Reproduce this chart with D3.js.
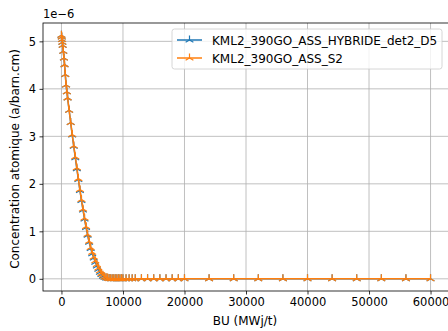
<!DOCTYPE html>
<html>
<head>
<meta charset="utf-8">
<script src="https://cdn.jsdelivr.net/npm/d3@7"></script>
<style>
  body { margin: 0; background: #fff; }
  svg { display: block; font-family: "DejaVu Sans", sans-serif; }
</style>
</head>
<body>
<div id="chart"></div>
<script>
// burnup steps (MWj/t)
const bu = [0, 50, 100, 150, 200, 300, 400, 500, 625, 750, 875, 1000, 1250, 1500, 1750, 2000,
  2250, 2500, 2750, 3000, 3250, 3500, 3750, 4000, 4250, 4500, 4750, 5000, 5250, 5500, 5750,
  6000, 6250, 6500, 6750, 7000, 7250, 7500, 7750, 8000, 8250, 8500, 8750, 9000, 9250, 9500,
  9750, 10000, 10500, 11000, 11500, 12000, 13000, 14000, 15000, 16000, 17000, 18000, 19000,
  20000, 24000, 28000, 32000, 36000, 40000, 44000, 48000, 52000, 56000, 60000];

// concentrations (x1e-6 a/barn.cm)
const concHybride = [5.13, 5.09, 5.04, 4.98, 4.92, 4.79, 4.65, 4.51, 4.30, 4.08, 3.94, 3.81, 3.55,
  3.29, 3.03, 2.79, 2.55, 2.32, 2.09, 1.86, 1.65, 1.45, 1.26, 1.08, 0.92, 0.77, 0.64, 0.53,
  0.44, 0.35, 0.27, 0.20, 0.14, 0.09, 0.055, 0.032, 0.018, 0.010, 0.006, 0.003, 0.002, 0.001,
  0.001, 0.0005, 0.0004, 0.0003, 0.0002, 0.0002, 0.0001, 0.0001, 0.0001, 0.0001, 0, 0, 0, 0,
  0, 0, 0, 0, 0, 0, 0, 0, 0, 0, 0, 0, 0, 0];
const concS2 = [5.13, 5.09, 5.04, 4.98, 4.92, 4.79, 4.65, 4.51, 4.30, 4.08, 3.94, 3.81, 3.55,
  3.29, 3.04, 2.80, 2.57, 2.34, 2.11, 1.88, 1.67, 1.47, 1.28, 1.10, 0.94, 0.79, 0.66, 0.56,
  0.46, 0.38, 0.30, 0.23, 0.17, 0.115, 0.075, 0.045, 0.027, 0.015, 0.008, 0.004, 0.003, 0.002,
  0.001, 0.001, 0.0005, 0.0004, 0.0003, 0.0002, 0.0002, 0.0001, 0.0001, 0.0001, 0, 0, 0, 0,
  0, 0, 0, 0, 0, 0, 0, 0, 0, 0, 0, 0, 0, 0];

const seriesNames = ['KML2_390GO_ASS_HYBRIDE_det2_D5', 'KML2_390GO_ASS_S2'];
const seriesColors = ['#1f77b4', '#ff7f0e'];
const xTicks = [0, 10000, 20000, 30000, 40000, 50000, 60000];
const yTicks = [0, 1, 2, 3, 4, 5];

const width = 448, height = 331;
const margin = { top: 23, right: -1, bottom: 40, left: 43 };
const innerW = width - margin.left - margin.right;
const innerH = height - margin.top - margin.bottom;

const svg = d3.select('#chart').append('svg')
  .attr('width', width)
  .attr('height', height);

const g = svg.append('g').attr('transform', `translate(${margin.left},${margin.top})`);

const xMin = d3.min(bu), xMax = d3.max(bu);
const xPad = (xMax - xMin) * 0.05;
const x = d3.scaleLinear().domain([xMin - xPad, xMax + xPad]).range([0, innerW]);

const yMax = d3.max(concS2.concat(concHybride));
const yPad = yMax * 0.05;
const y = d3.scaleLinear().domain([-yPad, yMax + yPad]).range([innerH, 0]);

// grid
g.append('g')
  .selectAll('line')
  .data(xTicks)
  .join('line')
  .attr('x1', d => x(d)).attr('x2', d => x(d))
  .attr('y1', 0).attr('y2', innerH)
  .attr('stroke', '#b0b0b0').attr('stroke-width', 0.8);
g.append('g')
  .selectAll('line')
  .data(yTicks)
  .join('line')
  .attr('x1', 0).attr('x2', innerW)
  .attr('y1', d => y(d)).attr('y2', d => y(d))
  .attr('stroke', '#b0b0b0').attr('stroke-width', 0.8);

// axes
const xAxis = g.append('g')
  .attr('transform', `translate(0,${innerH})`)
  .call(d3.axisBottom(x).tickValues(xTicks).tickFormat(d3.format('d')).tickSize(3.5).tickPadding(3.5));
const yAxis = g.append('g')
  .call(d3.axisLeft(y).tickValues(yTicks).tickFormat(d3.format('d')).tickSize(3.5).tickPadding(3.5));

[xAxis, yAxis].forEach(a => {
  a.select('.domain').remove();
  a.selectAll('line').attr('stroke', '#000').attr('stroke-width', 0.8);
  a.selectAll('text').attr('fill', '#000').attr('font-size', 11.5)
    .attr('font-family', '"DejaVu Sans", sans-serif');
});

// frame
g.append('rect')
  .attr('width', innerW).attr('height', innerH)
  .attr('fill', 'none').attr('stroke', '#000').attr('stroke-width', 0.8);

// series
const triUp = 'M0,0L0,-4.5M0,0L-3.9,2.25M0,0L3.9,2.25';
const allSeries = [concHybride, concS2];
const line = d3.line().x(d => x(d[0])).y(d => y(d[1]));

allSeries.forEach((vals, i) => {
  const pts = bu.map((b, j) => [b, vals[j]]);
  const sg = g.append('g');
  sg.append('path')
    .datum(pts)
    .attr('d', line)
    .attr('fill', 'none')
    .attr('stroke', seriesColors[i])
    .attr('stroke-width', 1.5);
  sg.selectAll('path.m')
    .data(pts)
    .join('path')
    .attr('class', 'm')
    .attr('d', triUp)
    .attr('transform', d => `translate(${x(d[0])},${y(d[1])})`)
    .attr('fill', 'none')
    .attr('stroke', seriesColors[i])
    .attr('stroke-width', 1.2);
});

// offset text
svg.append('text')
  .attr('x', margin.left).attr('y', margin.top - 5)
  .attr('font-size', 11.5)
  .text('1e\u22126');

// labels
svg.append('text')
  .attr('x', 245).attr('y', height - 6)
  .attr('text-anchor', 'middle')
  .attr('font-size', 12)
  .text('BU (MWj/t)');
svg.append('text')
  .attr('transform', `translate(19,${margin.top + innerH / 2 + 2}) rotate(-90)`)
  .attr('text-anchor', 'middle')
  .attr('font-size', 12)
  .text('Concentration atomique (a/barn.cm)');

// legend
const leg = svg.append('g').attr('transform', 'translate(172,29)');
leg.append('rect')
  .attr('width', 270).attr('height', 40)
  .attr('rx', 2.5)
  .attr('fill', '#fff').attr('fill-opacity', 0.8)
  .attr('stroke', '#ccc').attr('stroke-width', 0.8);
seriesNames.forEach((name, i) => {
  const row = leg.append('g').attr('transform', `translate(0,${11 + i * 18})`);
  row.append('line')
    .attr('x1', 5).attr('x2', 30)
    .attr('stroke', seriesColors[i]).attr('stroke-width', 1.5);
  row.append('path')
    .attr('d', triUp)
    .attr('transform', 'translate(17.5,0)')
    .attr('fill', 'none')
    .attr('stroke', seriesColors[i]).attr('stroke-width', 1.2);
  row.append('text')
    .attr('x', 40).attr('y', 4.5)
    .attr('font-size', 12)
    .text(name);
});
</script>
</body>
</html>
